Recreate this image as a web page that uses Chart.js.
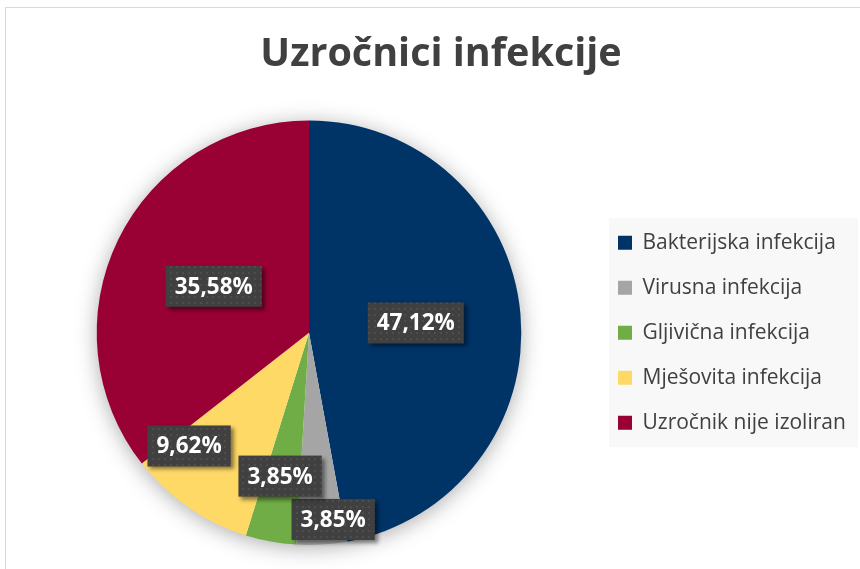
<!DOCTYPE html>
<html>
<head>
<meta charset="utf-8">
<title>Uzročnici infekcije</title>
<script src="https://cdn.jsdelivr.net/npm/chart.js@4.4.1/dist/chart.umd.min.js"></script>
<style>
    body { margin: 0; background: #fff; overflow: hidden; }
    #frame { position: absolute; left: 5px; top: 7px; width: 900px; height: 620px; border: 1px solid #d9d9d9; }
    #chart { position: absolute; left: 0; top: 0; }
</style>
</head>
<body>
<div id="frame"></div>
<canvas id="chart" width="858" height="569"></canvas>
<script>
// Data
const categories = ['Bakterijska infekcija', 'Virusna infekcija', 'Gljivična infekcija', 'Mješovita infekcija', 'Uzročnik nije izoliran'];
const shares = [47.12, 3.85, 3.85, 9.62, 35.58];
const sliceColors = ['#003366', '#a5a5a5', '#70ad47', '#ffd966', '#990033'];

const textColor = '#404040';

// Fix the legend's width so the pie sits left of it like in the original
const legendWidth = {
    id: 'legendWidth',
    afterInit(chart, args, opts) {
        const fit = chart.legend.fit;
        chart.legend.fit = function() {
            fit.call(this);
            this.width = opts.width;
        };
    }
};

// Light grey box behind the legend
const legendBackground = {
    id: 'legendBackground',
    beforeDraw(chart, args, opts) {
        const lg = chart.legend;
        if (!lg) return;
        const ctx = chart.ctx;
        const cy = (lg.top + lg.bottom) / 2;
        ctx.save();
        ctx.fillStyle = opts.color;
        ctx.fillRect(lg.left + opts.inset, cy - opts.height / 2, lg.width - opts.inset, opts.height);
        ctx.restore();
    }
};

// Soft shadow under the whole pie
const pieShadow = {
    id: 'pieShadow',
    beforeDatasetsDraw(chart) {
        const arc = chart.getDatasetMeta(0).data[0];
        if (!arc) return;
        const ctx = chart.ctx;
        ctx.save();
        ctx.shadowColor = 'rgba(0, 0, 0, 0.35)';
        ctx.shadowBlur = 22;
        ctx.shadowOffsetY = 3;
        ctx.fillStyle = '#ffffff';
        ctx.beginPath();
        ctx.arc(arc.x, arc.y, arc.outerRadius - 1, 0, Math.PI * 2);
        ctx.fill();
        ctx.restore();
    }
};

// Dark boxed percentage labels
let dotPattern = null;
function getDotPattern(ctx) {
    if (dotPattern) return dotPattern;
    const p = document.createElement('canvas');
    p.width = 6; p.height = 6;
    const pc = p.getContext('2d');
    pc.fillStyle = 'rgba(255, 255, 255, 0.07)';
    pc.fillRect(2, 2, 2, 2);
    dotPattern = ctx.createPattern(p, 'repeat');
    return dotPattern;
}

const boxedLabels = {
    id: 'boxedLabels',
    afterDatasetsDraw(chart, args, opts) {
        const ctx = chart.ctx;
        const meta = chart.getDatasetMeta(0);
        const values = chart.data.datasets[0].data;
        ctx.save();
        ctx.font = 'bold 22.5px "Open Sans"';
        ctx.textAlign = 'center';
        ctx.textBaseline = 'middle';
        meta.data.forEach((arc, i) => {
            const {x, y, startAngle, endAngle, outerRadius} = arc.getProps(['x', 'y', 'startAngle', 'endAngle', 'outerRadius'], true);
            const mid = (startAngle + endAngle) / 2 + opts.nudge[i] * Math.PI / 180;
            const r = outerRadius * opts.radius[i];
            const cx = x + Math.cos(mid) * r;
            const cy = y + Math.sin(mid) * r;
            const text = values[i].toFixed(2).replace('.', ',') + '%';
            const w = ctx.measureText(text).width + 18;
            const h = 41;

            ctx.save();
            ctx.shadowColor = 'rgba(0, 0, 0, 0.45)';
            ctx.shadowBlur = 4;
            ctx.shadowOffsetX = 3;
            ctx.shadowOffsetY = 3;
            ctx.fillStyle = textColor;
            ctx.fillRect(cx - w / 2, cy - h / 2, w, h);
            ctx.restore();

            ctx.fillStyle = getDotPattern(ctx);
            ctx.fillRect(cx - w / 2, cy - h / 2, w, h);

            ctx.fillStyle = '#ffffff';
            ctx.fillText(text, cx, cy + 1);
        });
        ctx.restore();
    }
};

const ctx = document.getElementById('chart').getContext('2d');
const pieChart = new Chart(ctx, {
    type: 'pie',
    data: {
        labels: categories,
        datasets: [{
            data: shares,
            backgroundColor: sliceColors,
            borderWidth: 0
        }]
    },
    options: {
        responsive: false,
        animation: false,
        devicePixelRatio: 1,
        layout: {
            padding: { left: 24, right: 0, top: 0, bottom: 24 }
        },
        plugins: {
            title: {
                display: true,
                text: 'Uzročnici infekcije',
                color: textColor,
                font: { family: 'Open Sans', size: 39.5, weight: 'bold' },
                padding: { top: 31, bottom: 42 }
            },
            legend: {
                position: 'right',
                fullSize: false,
                labels: {
                    color: textColor,
                    font: { family: 'Open Sans', size: 21 },
                    boxWidth: 14,
                    boxHeight: 14,
                    padding: 24
                }
            },
            tooltip: { enabled: false },
            legendWidth: { width: 264 },
            legendBackground: { color: '#f8f8f8', inset: 15, height: 229 },
            boxedLabels: {
                radius: [0.505, 0.887, 0.689, 0.777, 0.499],
                nudge: [0, -3.9, 1, 12, 0]
            }
        }
    },
    plugins: [legendWidth, legendBackground, pieShadow, boxedLabels]
});
</script>
</body>
</html>
